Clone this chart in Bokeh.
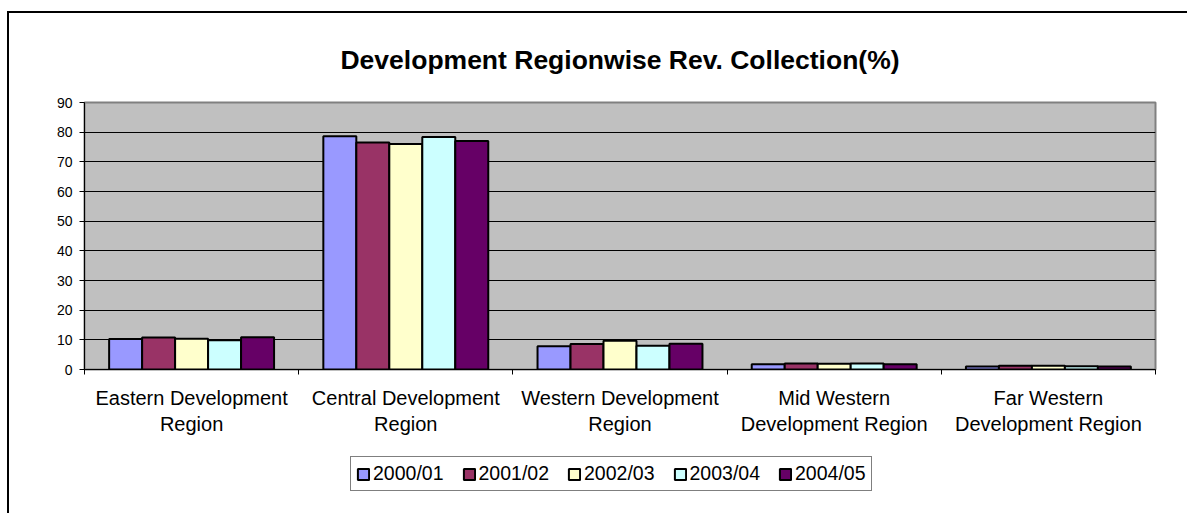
from bokeh.plotting import figure
from bokeh.models import FixedTicker, Legend, LegendItem
from bokeh.layouts import column
from bokeh.embed import file_html
from bokeh.resources import INLINE

categories = ["Eastern Development\nRegion", "Central Development\nRegion",
              "Western Development\nRegion", "Mid Western\nDevelopment Region",
              "Far Western\nDevelopment Region"]
years = ["2000/01", "2001/02", "2002/03", "2003/04", "2004/05"]
v2000 = [10.3, 78.6, 7.8, 1.8, 1.0]
v2001 = [10.8, 76.5, 8.6, 2.0, 1.3]
v2002 = [10.4, 76.0, 9.7, 1.9, 1.3]
v2003 = [9.9, 78.4, 8.0, 2.0, 1.1]
v2004 = [10.9, 77.0, 8.7, 1.8, 1.0]
series = [v2000, v2001, v2002, v2003, v2004]
colors = ["#9999FF", "#993366", "#FFFFCC", "#CCFFFF", "#660066"]
y_ticks = list(range(0, 100, 10))

FONT = "Liberation Sans"
W, H1, H2 = 1178, 427, 73
p = figure(width=W, height=H1, x_range=(0, len(categories)), y_range=(0, 90),
           output_backend="svg", toolbar_location=None,
           min_border_left=75, min_border_right=10 + W - 1156,
           min_border_top=89, min_border_bottom=H1 - 356)
p.background_fill_color = "#C0C0C0"
p.border_fill_color = "white"
p.outline_line_color = "#808080"
p.outline_line_width = 2

p.title.text = "Development Regionwise Rev. Collection(%)"
p.title.align = "center"
p.title.text_font = FONT
p.title.text_font_size = "26.5px"
p.title.text_font_style = "bold"
p.title.text_color = "black"
p.title.standoff = 55

bw = 0.154
for j, (vals, col) in enumerate(zip(series, colors)):
    xs = [i + 0.5 + (j - 2) * bw for i in range(len(categories))]
    p.vbar(x=xs, top=vals, width=bw, bottom=0, fill_color=col,
           line_color="black", line_width=2)

# y axis
p.yaxis.ticker = FixedTicker(ticks=y_ticks)
p.yaxis.major_label_text_font = FONT
p.yaxis.major_label_text_font_size = "14px"
p.yaxis.major_label_text_color = "black"
p.yaxis.major_tick_out = 5
p.yaxis.major_tick_in = 0
p.yaxis.minor_tick_line_color = None
p.yaxis.axis_line_color = "black"
p.yaxis.major_label_standoff = 7

# x axis
p.xaxis.ticker = FixedTicker(ticks=[i + 0.5 for i in range(len(categories))],
                             minor_ticks=list(range(len(categories) + 1)))
p.xaxis.major_label_overrides = {i + 0.5: c for i, c in enumerate(categories)}
p.xaxis.major_label_text_font = FONT
p.xaxis.major_label_text_font_size = "20px"
p.xaxis.major_label_text_color = "black"
p.xaxis.major_label_text_align = "center"
p.xaxis.major_tick_out = 0
p.xaxis.major_tick_in = 0
p.xaxis.minor_tick_out = 5
p.xaxis.minor_tick_in = 0
p.xaxis.minor_tick_line_color = "black"
p.xaxis.axis_line_color = "black"
p.xaxis.major_label_standoff = 12

p.xgrid.grid_line_color = None
p.ygrid.grid_line_color = "black"
p.ygrid.grid_line_width = 1

# legend figure (its renderers are hidden; only the legend shows)
p2 = figure(width=W, height=H2, x_range=(0, 1), y_range=(0, 1),
            output_backend="svg", toolbar_location=None,
            min_border=0, min_border_left=0, min_border_right=0,
            min_border_top=0, min_border_bottom=0)
p2.axis.visible = False
p2.grid.grid_line_color = None
p2.outline_line_color = None
p2.background_fill_color = "white"
p2.border_fill_color = "white"
items = []
for col, yr in zip(colors, years):
    r = p2.vbar(x=[0.5], top=[1], width=0.1, fill_color=col, line_color="black",
                line_width=2, visible=False)
    items.append(LegendItem(label=yr, renderers=[r]))

legend = Legend(items=items, orientation="horizontal", location=(266, 22))
legend.label_text_font = FONT
legend.label_text_font_size = "19.5px"
legend.label_text_color = "black"
legend.glyph_width = 14
legend.glyph_height = 14
legend.label_standoff = 3
legend.spacing = 18
legend.padding = 5
legend.margin = 0
legend.border_line_color = "black"
legend.border_line_width = 1
legend.background_fill_color = "white"
legend.background_fill_alpha = 1
legend.inactive_fill_alpha = 0
p2.add_layout(legend, "center")

layout = column(p, p2, spacing=0)
layout.styles = {"border-left": "2px solid black", "border-top": "2px solid black",
                 "margin-left": "7px", "margin-top": "11px"}

open("out.html", "w").write(file_html(layout, INLINE))
